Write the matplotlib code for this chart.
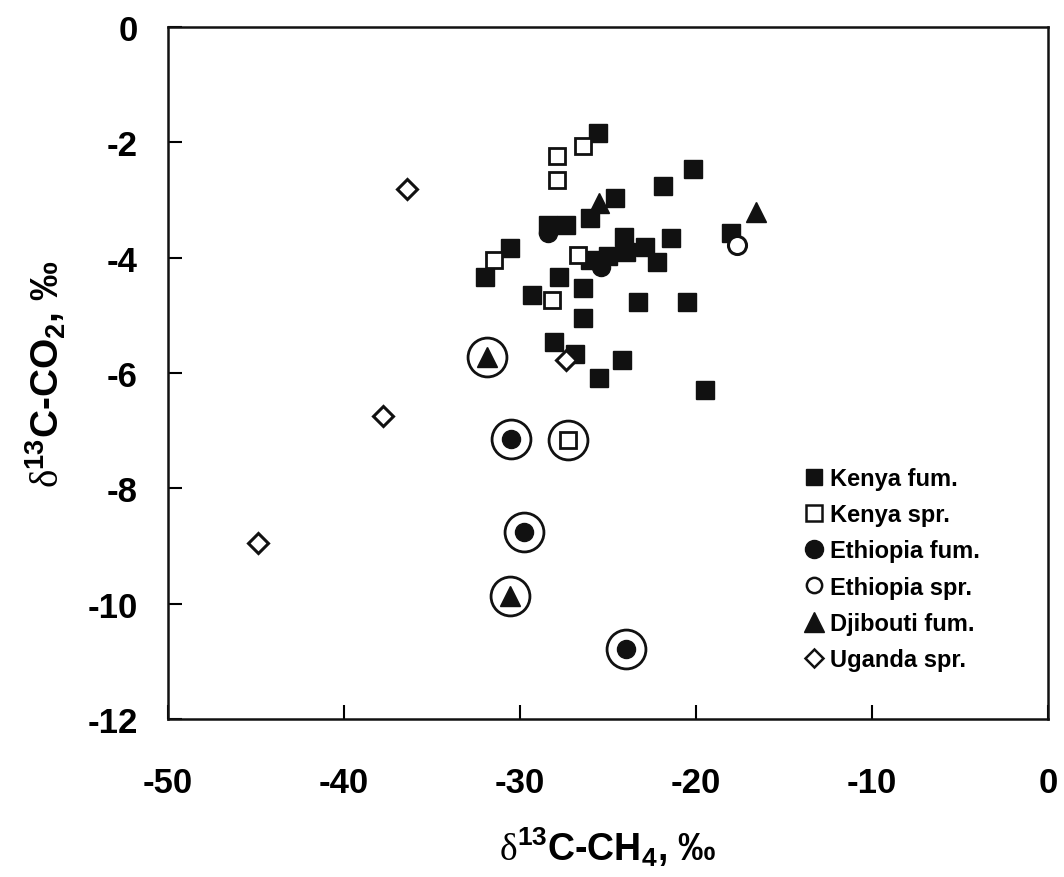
import matplotlib
matplotlib.use("Agg")
import matplotlib.pyplot as plt
from matplotlib.lines import Line2D

plt.rcParams['font.family'] = ['Liberation Sans', 'DejaVu Sans']
plt.rcParams['font.weight'] = 'bold'
plt.rcParams['mathtext.fontset'] = 'custom'
plt.rcParams['mathtext.rm'] = 'Liberation Sans:bold'
plt.rcParams['mathtext.it'] = 'Liberation Sans:bold'
plt.rcParams['mathtext.bf'] = 'Liberation Sans:bold'
plt.rcParams['mathtext.sf'] = 'Liberation Serif:weight=normal:style=normal'

# ---- data (d13C-CH4, d13C-CO2) ----
kenya_fum_x = [-25.6, -20.2, -21.9, -24.6, -26.0, -28.4, -27.4, -30.6, -32.0,
               -24.1, -25.0, -24.0, -22.9, -22.2, -26.0, -21.4, -18.0,
               -27.8, -29.3, -26.4, -23.3, -20.5, -26.4, -28.1, -26.9, -25.5,
               -24.2, -19.5]
kenya_fum_y = [-1.83, -2.46, -2.75, -2.96, -3.31, -3.43, -3.43, -3.83, -4.34,
               -3.64, -3.97, -3.90, -3.82, -4.08, -4.04, -3.66, -3.57,
               -4.34, -4.65, -4.53, -4.77, -4.77, -5.05, -5.47, -5.67, -6.08,
               -5.77, -6.29]

kenya_spr_x = [-26.4, -27.9, -27.9, -31.5, -26.7, -28.2, -27.3]
kenya_spr_y = [-2.06, -2.24, -2.65, -4.04, -3.95, -4.74, -7.17]

ethiopia_fum_x = [-28.4, -25.4, -30.5, -29.8, -24.0]
ethiopia_fum_y = [-3.57, -4.16, -7.15, -8.75, -10.78]

ethiopia_spr_x = [-17.7]
ethiopia_spr_y = [-3.78]

djibouti_fum_x = [-16.6, -25.5, -31.9, -30.6]
djibouti_fum_y = [-3.20, -3.05, -5.73, -9.86]

uganda_spr_x = [-36.4, -37.8, -44.9, -27.4]
uganda_spr_y = [-2.81, -6.74, -8.94, -5.77]

# points that are ringed in the original figure
circled_x = [-31.9, -30.5, -27.3, -29.8, -30.6, -24.0]
circled_y = [-5.73, -7.15, -7.17, -8.75, -9.86, -10.78]

xticks = [-50, -40, -30, -20, -10, 0]
yticks = [0, -2, -4, -6, -8, -10, -12]

fig = plt.figure(figsize=(10.64, 8.78), dpi=100)
ax = fig.add_axes([0.158, 0.180, 0.827, 0.788])

ax.plot(circled_x, circled_y, 'o', ls='none', ms=28, mfc='none', mec='#111111', mew=2.0)

ax.plot(kenya_fum_x, kenya_fum_y, 's', ls='none', ms=12.5, color='#111111', label='Kenya fum.')
ax.plot(kenya_spr_x, kenya_spr_y, 's', ls='none', ms=12, mfc='white', mec='#111111', mew=2.0,
        label='Kenya spr.')
ax.plot(ethiopia_fum_x, ethiopia_fum_y, 'o', ls='none', ms=13, color='#111111', label='Ethiopia fum.')
ax.plot(ethiopia_spr_x, ethiopia_spr_y, 'o', ls='none', ms=13, mfc='white', mec='#111111', mew=2.2,
        label='Ethiopia spr.')
ax.plot(djibouti_fum_x, djibouti_fum_y, '^', ls='none', ms=15, color='#111111', label='Djibouti fum.')
ax.plot(uganda_spr_x, uganda_spr_y, 'D', ls='none', ms=10, mfc='white', mec='#111111', mew=2.2,
        label='Uganda spr.')

ax.set_xlim(-50, 0)
ax.set_ylim(-12, 0)
ax.set_xticks(xticks)
ax.set_yticks(yticks)
ax.set_xticklabels([str(v) for v in xticks])
ax.set_yticklabels([str(v) for v in yticks])
ax.tick_params(direction='in', length=10, width=1.5, labelsize=25,
               top=False, right=False)
ax.tick_params(axis='x', pad=34)
ax.tick_params(axis='y', pad=22)
for s in ax.spines.values():
    s.set_linewidth(1.8)
    s.set_color('#111111')

ax.set_xlabel(r'$\mathsf{\delta}^{13}$C-CH$_4$, ‰', fontsize=27, fontweight='bold', labelpad=18)
ax.set_ylabel(r'$\mathsf{\delta}^{13}$C-CO$_2$, ‰', fontsize=28, fontweight='bold', labelpad=14)

# legend (marker handles sized as in figure)
handles = [
    Line2D([], [], marker='s', ls='none', ms=12, color='#111111'),
    Line2D([], [], marker='s', ls='none', ms=11, mfc='white', mec='#111111', mew=1.8),
    Line2D([], [], marker='o', ls='none', ms=13, color='#111111'),
    Line2D([], [], marker='o', ls='none', ms=11, mfc='white', mec='#111111', mew=1.8),
    Line2D([], [], marker='^', ls='none', ms=14, color='#111111'),
    Line2D([], [], marker='D', ls='none', ms=9, mfc='white', mec='#111111', mew=1.8),
]
labels = ['Kenya fum.', 'Kenya spr.', 'Ethiopia fum.', 'Ethiopia spr.', 'Djibouti fum.', 'Uganda spr.']
leg = ax.legend(handles, labels, loc='upper left', bbox_to_anchor=(0.712, 0.378),
                frameon=False, fontsize=17, handlelength=0.8, handletextpad=0.3,
                labelspacing=0.56, borderaxespad=0)
for t in leg.get_texts():
    t.set_fontweight('bold')

fig.savefig('out.png', dpi=100)
